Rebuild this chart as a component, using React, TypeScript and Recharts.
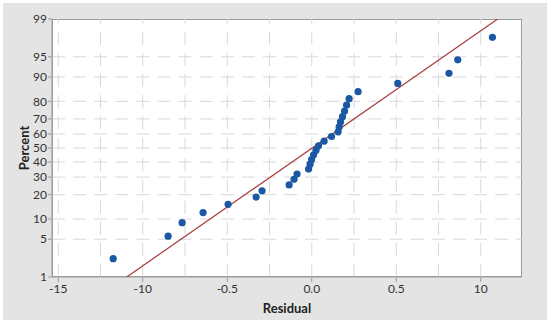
import React from "react";
import {
  ScatterChart,
  Scatter,
  XAxis,
  YAxis,
  ReferenceLine,
} from "recharts";

// residuals (x) and their plotted percent (y)
const residuals = [
  -1.175, -0.85, -0.767, -0.643, -0.495, -0.329, -0.294, -0.134, -0.105, -0.087,
  -0.019, -0.01, -0.001, 0.011, 0.025, 0.04, 0.073, 0.117, 0.156, 0.162,
  0.17, 0.182, 0.194, 0.206, 0.221, 0.274, 0.509, 0.812, 0.864, 1.069,
];
const percents = [
  2.3, 5.6, 8.9, 12.2, 15.5, 18.8, 22.0, 25.3, 28.6, 31.9,
  35.2, 38.5, 41.8, 45.1, 48.4, 51.6, 54.9, 58.2, 61.5, 64.8,
  68.1, 71.4, 74.7, 78.0, 81.3, 84.5, 87.8, 91.1, 94.4, 97.7,
];

// fitted line end points
const fitResidual = [-1.095, 1.1];
const fitPercent = [1, 99];

const pctTicks = [1, 5, 10, 20, 30, 40, 50, 60, 70, 80, 90, 95, 99];
const gridPct = [5, 10, 20, 30, 40, 50, 60, 70, 80, 90, 95];
const xTicks = [-1.5, -1, -0.5, 0, 0.5, 1];
const xTickLabels = ["-15", "-10", "-0.5", "0.0", "0.5", "10"];
const gridX = [-1.5, -1.25, -1, -0.75, -0.5, -0.25, 0, 0.25, 0.5, 0.75, 1];

// inverse normal cdf (Acklam) - used as the probability scale
function probit(p: number): number {
  const a = [-39.69683028665376, 220.9460984245205, -275.9285104469687, 138.357751867269, -30.66479806614716, 2.506628277459239];
  const b = [-54.47609879822406, 161.5858368580409, -155.6989798598866, 66.80131188771972, -13.28068155288572];
  const c = [-0.007784894002430293, -0.3223964580411365, -2.400758277161838, -2.549732539343734, 4.374664141464968, 2.938163982698783];
  const d = [0.007784695709041462, 0.3224671290700398, 2.445134137142996, 3.754408661907416];
  const pl = 0.02425;
  if (p < pl) {
    const q = Math.sqrt(-2 * Math.log(p));
    return (((((c[0] * q + c[1]) * q + c[2]) * q + c[3]) * q + c[4]) * q + c[5]) /
      ((((d[0] * q + d[1]) * q + d[2]) * q + d[3]) * q + 1);
  }
  if (p > 1 - pl) {
    const q = Math.sqrt(-2 * Math.log(1 - p));
    return -(((((c[0] * q + c[1]) * q + c[2]) * q + c[3]) * q + c[4]) * q + c[5]) /
      ((((d[0] * q + d[1]) * q + d[2]) * q + d[3]) * q + 1);
  }
  const q = p - 0.5;
  const r = q * q;
  return (((((a[0] * r + a[1]) * r + a[2]) * r + a[3]) * r + a[4]) * r + a[5]) * q /
    (((((b[0] * r + b[1]) * r + b[2]) * r + b[3]) * r + b[4]) * r + 1);
}

const z = (pct: number) => probit(pct / 100);

const points = residuals.map((r, i) => ({ x: r, y: z(percents[i]) }));
const fitLine = fitResidual.map((r, i) => ({ x: r, y: z(fitPercent[i]) }));
const yTicks = pctTicks.map(z);

const FONT = "Lato, 'Open Sans', sans-serif";
const AXIS = "#9a9a9a";
const GRID = "#d8d8d8";

const fmtY = (v: number) => {
  let best = 0;
  yTicks.forEach((t, i) => {
    if (Math.abs(t - v) < Math.abs(yTicks[best] - v)) best = i;
  });
  return String(pctTicks[best]);
};
const fmtX = (v: number) => {
  const i = xTicks.findIndex((t) => Math.abs(t - v) < 1e-6);
  return i >= 0 ? xTickLabels[i] : "";
};

const Dot = (props: any) => (
  <circle cx={props.cx} cy={props.cy} r={3.6} fill="#1a58a4" />
);

export default function App() {
  return (
    <div style={{ position: "absolute", left: 0, top: 0, width: 550, height: 325, background: "#fff", fontFamily: FONT }}>
      <div style={{ position: "absolute", left: 3, top: 3, width: 544, height: 317, background: "#e4e4e4" }} />
      <div
        style={{
          position: "absolute",
          left: 52,
          top: 19,
          width: 470,
          height: 258,
          background: "#fff",
          border: `1px solid ${AXIS}`,
          boxSizing: "border-box",
        }}
      />
      <div style={{ position: "absolute", left: 0, top: 0 }}>
        <ScatterChart width={550} height={325} margin={{ top: 19, right: 28, left: 0, bottom: 0 }}>
          <XAxis
            type="number"
            dataKey="x"
            domain={[-1.537, 1.244]}
            ticks={xTicks}
            tickFormatter={fmtX}
            allowDataOverflow
            height={48}
            stroke={AXIS}
            tickSize={5}
            tick={{ fill: "#333", fontSize: 12, fontFamily: FONT }}
            label={{ value: "Residual", position: "insideBottom", offset: 12, fill: "#222", fontSize: 13, fontWeight: 700, fontFamily: FONT }}
          />
          <YAxis
            type="number"
            dataKey="y"
            domain={[z(1), z(99)]}
            ticks={yTicks}
            tickFormatter={fmtY}
            allowDataOverflow
            width={52}
            stroke={AXIS}
            tickSize={4}
            tickMargin={1}
            interval={0}
            tick={{ fill: "#333", fontSize: 12, fontFamily: FONT }}
            label={{ value: "Percent", angle: -90, position: "insideLeft", offset: 24, fill: "#222", fontSize: 13, fontWeight: 700, fontFamily: FONT, style: { textAnchor: "middle" } }}
          />
          {gridX.map((v) => (
            <ReferenceLine key={"gx" + v} x={v} stroke={GRID} strokeDasharray="13 8.1" />
          ))}
          {gridPct.map((p) => (
            <ReferenceLine key={"gy" + p} y={z(p)} stroke={GRID} strokeDasharray="13 8.1" />
          ))}
          <Scatter
            data={fitLine}
            line={{ stroke: "#a83a3a", strokeWidth: 1.2 }}
            shape={() => <g />}
            isAnimationActive={false}
          />
          <Scatter data={points} shape={Dot} isAnimationActive={false} />
        </ScatterChart>
      </div>
    </div>
  );
}
